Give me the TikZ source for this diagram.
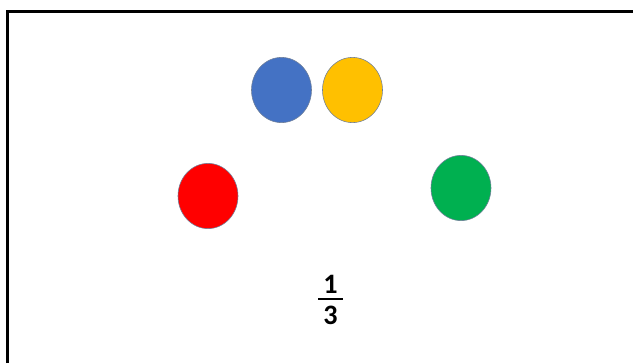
\documentclass[tikz,border=0pt]{standalone}
\usepackage{fontspec}
\setsansfont{Carlito}
\usetikzlibrary{shapes.geometric}
\definecolor{ballblue}{HTML}{4472C4}
\definecolor{ballyellow}{HTML}{FFC000}
\definecolor{ballred}{HTML}{FF0000}
\definecolor{ballgreen}{HTML}{00B050}
\definecolor{rimcol}{HTML}{6F7F99}
\begin{document}
\begin{tikzpicture}[x=0.025cm,y=-0.025cm,
    ball/.style={ellipse,draw=rimcol,line width=0.4pt,inner sep=0pt,
      minimum width=1.5cm,minimum height=1.63cm},
    digit/.style={anchor=base,inner sep=0pt,
      font=\fontsize{20}{24}\selectfont\sffamily\bfseries}]
    \useasboundingbox (0,0) rectangle (633,363);
    \draw[line width=1.8pt] (7.5,363) -- (7.5,11.5) -- (633,11.5);
    \node[ball,fill=ballblue]   (b) at (281.5,90) {};
    \node[ball,fill=ballyellow] (y) at (352.5,90) {};
    \node[ball,fill=ballred]    (r) at (208,196) {};
    \node[ball,fill=ballgreen]  (g) at (461,188) {};
    \node[digit] (n) at (330.5,293) {1};
    \node[digit] (d) at (330.5,324) {3};
    \coordinate (bl) at (318,299);
    \coordinate (br) at (343,299);
    \draw[line width=1.8pt] (bl) -- (br);
  \end{tikzpicture}
\end{document}
